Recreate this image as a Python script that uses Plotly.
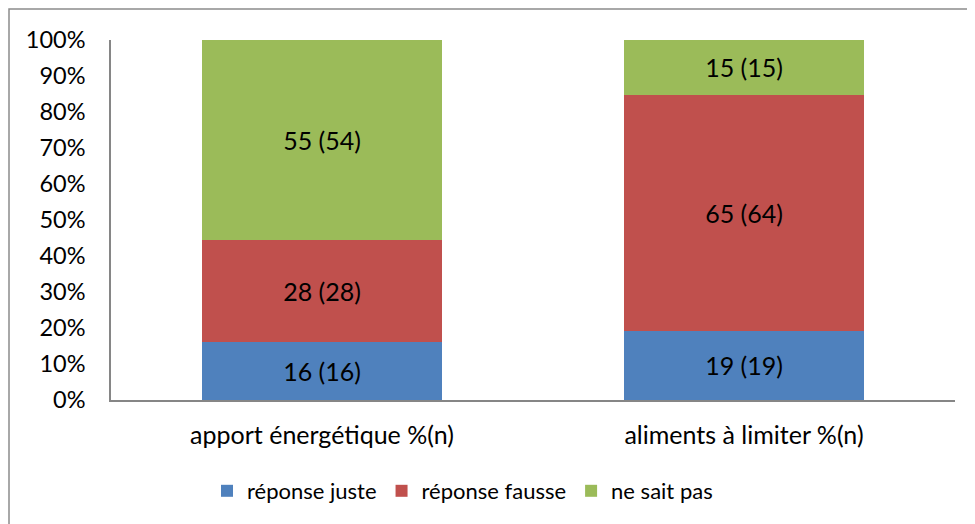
import plotly.graph_objects as go

categories = ["apport énergétique %(n)", "aliments à limiter %(n)"]
series_names = ["réponse juste", "réponse fausse", "ne sait pas"]
values_juste = [16, 19]
values_fausse = [28, 65]
values_nsp = [55, 15]
labels_juste = ["16 (16)", "19 (19)"]
labels_fausse = ["28 (28)", "65 (64)"]
labels_nsp = ["55 (54)", "15 (15)"]
colors = ["#4F81BD", "#C0504D", "#9BBB59"]

# the page has an 8px body margin, so the figure is placed at (8, 8)
OFF = 8
W, H = 975 - OFF, 524 - OFF
ml, mr, mt, mb = 111 - OFF, 20, 40 - OFF, 124
pw, ph = W - ml - mr, H - mt - mb

font = "Lato, Calibri, Carlito, sans-serif"
fig = go.Figure()
for name, vals, labs, col in zip(series_names,
                                 [values_juste, values_fausse, values_nsp],
                                 [labels_juste, labels_fausse, labels_nsp],
                                 colors):
    fig.add_trace(go.Bar(
        x=categories, y=vals, name=name, text=labs,
        marker=dict(color=col, line=dict(width=0)),
        textposition="inside", insidetextanchor="middle", textangle=0,
        textfont=dict(color="black", size=25, family=font),
        hoverinfo="skip",
    ))

def px(x):  # page pixel -> paper x
    return (x - OFF - ml) / pw

def py(y):  # page pixel -> paper y
    return (H - mb - (y - OFF)) / ph

fig.update_layout(
    width=W, height=H,
    margin=dict(l=ml, r=mr, t=mt, b=mb),
    barmode="stack", barnorm="fraction", bargap=0.431,
    paper_bgcolor="white", plot_bgcolor="white",
    font=dict(family=font, size=23, color="black"),
    uniformtext=dict(mode=False),
    showlegend=True,
    legend=dict(orientation="h", x=px(207), xanchor="left", y=py(491), yanchor="middle",
                font=dict(size=22, family=font), traceorder="normal",
                itemwidth=30, bgcolor="rgba(0,0,0,0)"),
    xaxis=dict(showline=True, linecolor="#868686", linewidth=1.5, ticks="",
               showgrid=False, tickfont=dict(size=25), fixedrange=True,
               ticklabelstandoff=12),
    yaxis=dict(range=[0, 1], dtick=0.1, tickformat=".0%", showline=True,
               linecolor="#868686", linewidth=1.5, ticks="", showgrid=False,
               zeroline=False, tickfont=dict(size=23.5), ticklabelstandoff=19),
    shapes=[dict(type="rect", xref="paper", yref="paper",
                 x0=px(9), x1=px(990), y0=py(540), y1=py(9),
                 line=dict(color="#8c8c8c", width=1.5), fillcolor="rgba(0,0,0,0)",
                 layer="below")],
)

fig.write_html("out.html")
